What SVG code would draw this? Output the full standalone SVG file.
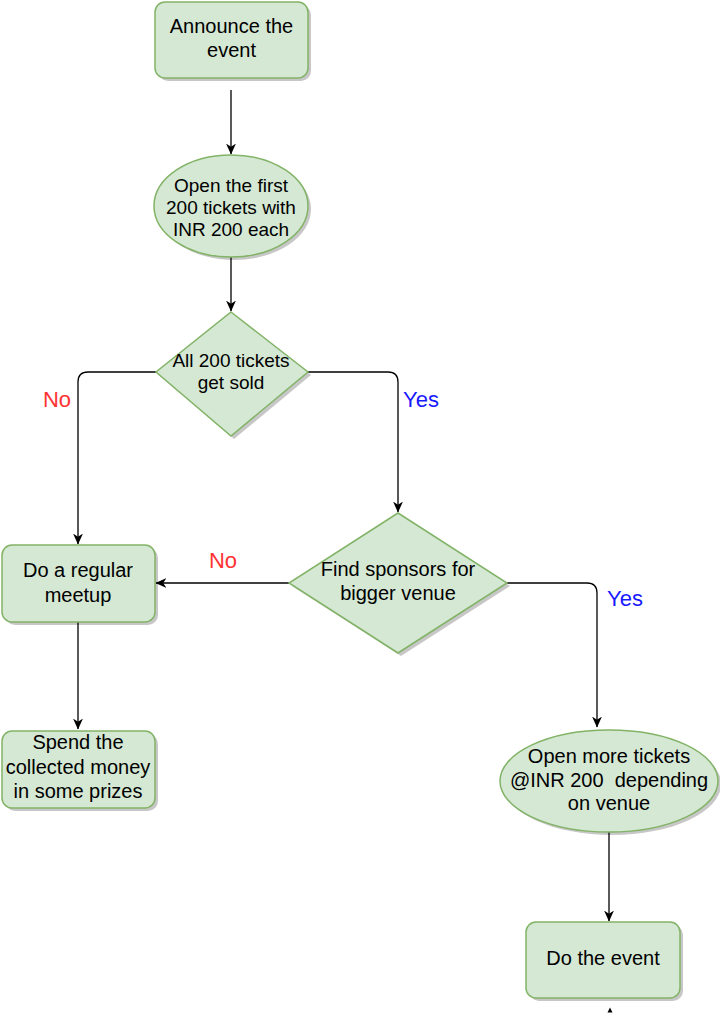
<svg xmlns="http://www.w3.org/2000/svg" width="720" height="1024" viewBox="0 0 720 1024">
<style>
.n{fill:#d5e8d4;stroke:#82b366;stroke-width:1.5}
.sh{fill:#000;opacity:0.22}
.t{font-family:"Liberation Sans",Arial,sans-serif;font-size:20px;fill:#000;text-anchor:middle}
.t19{font-size:19px}
.e{fill:none;stroke:#000;stroke-width:1.3}
.no{font-family:"Liberation Sans",Arial,sans-serif;font-size:22px;fill:#ff3333}
.yes{font-family:"Liberation Sans",Arial,sans-serif;font-size:22px;fill:#1a1aff}
</style>
<defs>
<marker id="arr" viewBox="0 0 10 10" refX="9.5" refY="5" markerWidth="11" markerHeight="11" markerUnits="userSpaceOnUse" orient="auto">
<path d="M0,0.5 L10,5 L0,9.5 L3,5 z" fill="#000"/>
</marker>
</defs>
<rect width="720" height="1024" fill="#fff"/>

<g id="connectors">
<path class="e" d="M231,90 V154" marker-end="url(#arr)"/>
<path class="e" d="M231,257 V311" marker-end="url(#arr)"/>
<path class="e" d="M156,372 H88 Q78,372 78,382 V544" marker-end="url(#arr)"/>
<path class="e" d="M308,372 H388 Q398,372 398,382 V512" marker-end="url(#arr)"/>
<path class="e" d="M289,583 H156" marker-end="url(#arr)"/>
<path class="e" d="M507,583 H587 Q597,583 597,593 V727" marker-end="url(#arr)"/>
<path class="e" d="M78,622 V729" marker-end="url(#arr)"/>
<path class="e" d="M609,832 V921" marker-end="url(#arr)"/>
<path d="M607.5,1012.5 L610,1007.5 L612.5,1012.5 z" fill="#000"/>
<text class="no" x="57" y="407" text-anchor="middle">No</text>
<text class="yes" x="421" y="407" text-anchor="middle">Yes</text>
<text class="no" x="223" y="568" text-anchor="middle">No</text>
<text class="yes" x="625" y="606" text-anchor="middle">Yes</text>
</g>

<g id="announce">
<rect class="sh" x="158" y="5" width="153" height="76" rx="10"/>
<rect class="n" x="155" y="2" width="153" height="76" rx="10"/>
<text class="t" x="231.5" y="33">Announce the</text>
<text class="t" x="231.5" y="57">event</text>
</g>

<g id="open-first">
<ellipse class="sh" cx="234" cy="209" rx="77" ry="51"/>
<ellipse class="n" cx="231" cy="206" rx="77" ry="51"/>
<text class="t t19" x="231" y="192">Open the first</text>
<text class="t t19" x="231" y="214">200 tickets with</text>
<text class="t t19" x="231" y="236">INR 200 each</text>
</g>

<g id="all-sold">
<polygon class="sh" points="234,315 311,375 234,439 159,375"/>
<polygon class="n" points="231,312 308,372 231,436 156,372"/>
<text class="t t19" x="231" y="367">All 200 tickets</text>
<text class="t t19" x="231" y="389">get sold</text>
</g>

<g id="regular-meetup">
<rect class="sh" x="5" y="548" width="153" height="77" rx="10"/>
<rect class="n" x="2" y="545" width="153" height="77" rx="10"/>
<text class="t" x="78" y="577">Do a regular</text>
<text class="t" x="78" y="602">meetup</text>
</g>

<g id="find-sponsors">
<polygon class="sh" points="401,516 510,586 401,656 292,586"/>
<polygon class="n" points="398,513 507,583 398,653 289,583"/>
<text class="t" x="398" y="576">Find sponsors for</text>
<text class="t" x="398" y="600">bigger venue</text>
</g>

<g id="spend-money">
<rect class="sh" x="5" y="734" width="153" height="77" rx="10"/>
<rect class="n" x="2" y="731" width="153" height="77" rx="10"/>
<text class="t" x="78" y="749">Spend the</text>
<text class="t" x="78" y="774">collected money</text>
<text class="t" x="78" y="798">in some prizes</text>
</g>

<g id="open-more">
<ellipse class="sh" cx="612" cy="784" rx="109" ry="51"/>
<ellipse class="n" cx="609" cy="781" rx="109" ry="51"/>
<text class="t" x="609" y="763">Open more tickets</text>
<text class="t" x="609" y="787" style="white-space:pre">@INR 200  depending</text>
<text class="t" x="609" y="810">on venue</text>
</g>

<g id="do-event">
<rect class="sh" x="529" y="925" width="154" height="76" rx="10"/>
<rect class="n" x="526" y="922" width="154" height="76" rx="10"/>
<text class="t" x="603" y="965">Do the event</text>
</g>
</svg>
